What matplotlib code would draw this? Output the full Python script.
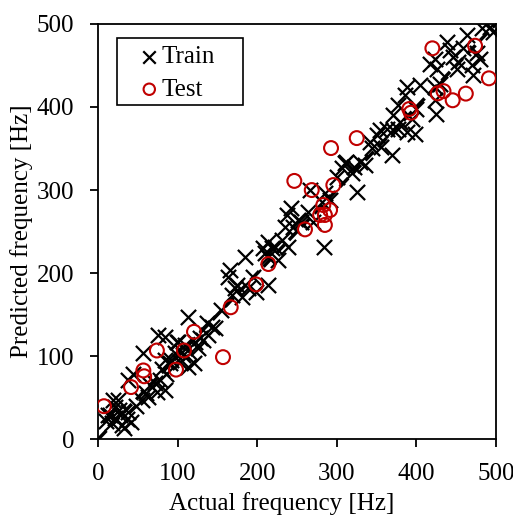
import matplotlib
matplotlib.use("Agg")
import matplotlib.pyplot as plt
from matplotlib.patches import Rectangle

train_actual = [
    15, 21, 27.6, 36, 42, 17, 30, 21, 19, 26, 10, 25, 33, 12, 38,
    44, 38, 57, 65, 71.6, 74, 84, 55, 63, 78, 86, 90.5, 84, 96.7, 80,
    103, 113, 120, 76, 84, 99, 107, 101, 109, 105, 126, 122, 113.5, 132,
    136.5, 143, 147, 138.6, 155, 163.7, 166, 168, 172, 180.5, 184.7, 189,
    195, 199, 210, 214, 218, 226.5, 207.7, 214, 222, 214, 230.8, 235,
    237, 243, 245, 251.6, 239, 264, 266, 281, 285, 284, 300, 306, 310,
    318.5, 321, 325, 312, 329, 341.7, 344, 350, 354, 362.7, 369, 371,
    377, 379, 388, 398, 371, 377, 386, 388, 400, 404.5, 423, 423, 425,
    417, 425.5, 423, 438, 446, 452.6, 450.6, 459, 463, 469.5, 471.5,
    475.7, 480, 482, 492.5, 496.6, 48, 60, 92, 116, 128, 175, 255, 270,
    292, 335, 356, 395, 430, 442,
]
train_pred = [
    29, 26, 29, 25, 21, 19.6, 17, 39, 47, 36, 22, 48, 14, 30, 33,
    79, 71, 103.5, 65, 68, 57, 59.5, 47, 51, 71, 79, 91.5, 95, 103.5, 85,
    93, 87, 91.5, 125.5, 123.5, 117.5, 101.5, 117.5, 113.5, 105.4, 109.5, 117.5, 147.5, 119.5,
    139.6, 135.5, 133.6, 125.5, 155.6, 195.7, 203.7, 173.6, 181.7, 171.6, 219.7, 181.7,
    195.7, 177.6, 223.8, 185.7, 229.8, 215.8, 229.8, 219.7, 231.8, 237.8, 239.8, 255.8,
    270, 278, 255.8, 264, 231.8, 274, 300, 286, 296, 231.8, 316, 326, 332,
    320, 328, 298, 334, 334, 358, 350, 366, 372, 374, 342, 372,
    374, 382, 370, 368, 390, 402, 414, 424, 398, 426, 408, 424, 392,
    452, 446, 458, 478, 460, 454, 446, 470.5, 486.5, 450, 438,
    464.5, 458, 494.6, 496.5, 490.5, 40, 56, 96, 104, 122, 186, 262, 262,
    288, 330, 352, 385, 428, 468,
]

test_actual = [
    7.5, 41.5, 57, 58, 74, 98, 108, 120.6, 157, 166.7, 198.5, 214, 260,
    246.6, 268.5, 295.6, 283, 291.5, 279, 285, 285, 292.7, 325, 420,
    473.6, 491, 462, 445.5, 426.7, 434, 391, 393,
]
test_pred = [
    40, 63, 83, 76, 107, 84, 107, 129.5, 99, 159, 186.5, 211, 252.7,
    311, 300, 306, 282, 276, 270, 270, 258, 350.5, 362.5, 470.5,
    473.6, 434.4, 416, 408, 416.3, 419, 397.5, 393,
]

ticks = [0, 100, 200, 300, 400, 500]

plt.rcParams['font.family'] = ['Liberation Serif', 'DejaVu Serif']
plt.rcParams['font.size'] = 18

fig = plt.figure(figsize=(5.13, 5.17), dpi=100)
ax = fig.add_axes([0.191, 0.150, 0.776, 0.804])

ax.plot([0, 500], [0, 500], color='black', linestyle=(0, (3.5, 1.8)), linewidth=2.5, zorder=3)
ax.scatter(train_actual, train_pred, marker='x', s=120, color='black', linewidths=1.6, label='Train', zorder=4)
ax.scatter(test_actual, test_pred, marker='o', s=100, facecolors='none', edgecolors='#c00000', linewidths=1.5, label='Test', zorder=5)

ax.set_xlim(0, 500)
ax.set_ylim(0, 500)
ax.set_xticks(ticks)
ax.set_yticks(ticks)
ax.tick_params(direction='out', length=6, width=1.3, top=False, right=False, labelsize=18, pad=11)
for s in ax.spines.values():
    s.set_linewidth(1.3)
ax.set_xlabel('Actual frequency [Hz]', fontsize=18, labelpad=3)
ax.xaxis.set_label_coords(0.462, -0.126)
ax.set_ylabel('Predicted frequency [Hz]', fontsize=18, labelpad=3)

# legend frame drawn as a box in axes fraction
frame = Rectangle((0.048, 0.804), 0.317, 0.161, transform=ax.transAxes, facecolor='white',
                  edgecolor='black', linewidth=1.2, zorder=6)
ax.add_patch(frame)
leg = ax.legend(loc='upper left', bbox_to_anchor=(0.110, 0.947), fontsize=18, markerscale=0.82,
                handlelength=0.6, handletextpad=0.18, borderpad=0, labelspacing=0.4,
                borderaxespad=0, frameon=False)
leg.set_zorder(7)

fig.savefig('out.png', dpi=100)
